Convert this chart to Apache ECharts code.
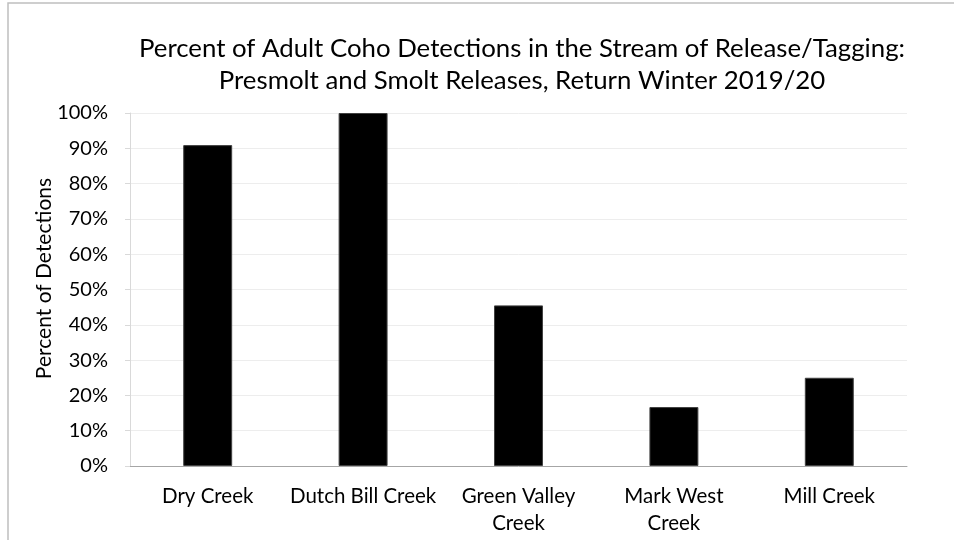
<!DOCTYPE html>
<html>
<head>
<meta charset="utf-8">
<script src="https://cdn.jsdelivr.net/npm/echarts@6/dist/echarts.min.js"></script>
<style>
  html, body { margin: 0; padding: 0; background: #fff; }
  #chart { width: 954px; height: 540px; }
</style>
</head>
<body>
<div id="chart"></div>
<script>
// Stream names (category axis)
const streams = ['Dry Creek', 'Dutch Bill Creek', 'Green Valley\nCreek', 'Mark West\nCreek', 'Mill Creek'];
// Percent of detections in the stream of release/tagging
const percentDetections = [90.9, 100, 45.5, 16.7, 25];
// Value-axis ticks
const yTicks = [0, 10, 20, 30, 40, 50, 60, 70, 80, 90, 100];

const titleLines = [
  'Percent of Adult Coho Detections in the Stream of Release/Tagging:',
  'Presmolt and Smolt Releases, Return Winter 2019/20'
];

const FONT = 'Lato, "Open Sans", sans-serif';
const chart = echarts.init(document.getElementById('chart'), null, { renderer: 'canvas' });

chart.setOption({
  animation: false,
  backgroundColor: '#ffffff',
  textStyle: { fontFamily: FONT },
  graphic: [{
    // chart-area frame (only top and left edges fall inside the canvas)
    type: 'rect',
    shape: { x: 8, y: 3, width: 1000, height: 600 },
    style: { fill: 'none', stroke: '#bfbfbf', lineWidth: 1.5 },
    silent: true,
    z: -1
  }],
  title: {
    text: titleLines.join('\n'),
    left: 517,
    top: 28,
    textAlign: 'center',
    textStyle: {
      fontFamily: FONT,
      fontSize: 25.8,
      fontWeight: 'normal',
      color: '#000',
      lineHeight: 32
    }
  },
  grid: { left: 130, right: 47, top: 113, bottom: 74, containLabel: false },
  xAxis: {
    type: 'category',
    data: streams,
    axisLine: { show: true, lineStyle: { color: '#a6a6a6', width: 1 } },
    axisTick: { show: false },
    axisLabel: {
      color: '#000',
      fontFamily: FONT,
      fontSize: 20.5,
      lineHeight: 27,
      margin: 17,
      interval: 0
    }
  },
  yAxis: {
    type: 'value',
    min: yTicks[0],
    max: yTicks[yTicks.length - 1],
    interval: 10,
    name: 'Percent of Detections',
    nameLocation: 'middle',
    nameGap: 75,
    nameMoveOverlap: false,
    nameRotate: 90,
    nameTextStyle: { color: '#000', fontFamily: FONT, fontSize: 21, padding: [0, 0, 0, 22] },
    axisLine: { show: true, lineStyle: { color: '#d9d9d9', width: 1 } },
    axisTick: { show: true, inside: false, length: 5, lineStyle: { color: '#d9d9d9' } },
    axisLabel: {
      color: '#000',
      fontFamily: FONT,
      fontSize: 20,
      margin: 22,
      formatter: v => v + '%'
    },
    splitLine: { show: true, lineStyle: { color: '#ededed', width: 1 } }
  },
  series: [{
    type: 'bar',
    data: percentDetections,
    barWidth: '31.5%',
    itemStyle: { color: '#000000', borderColor: '#404040', borderWidth: 1 },
    label: { show: false }
  }]
});
</script>
</body>
</html>
